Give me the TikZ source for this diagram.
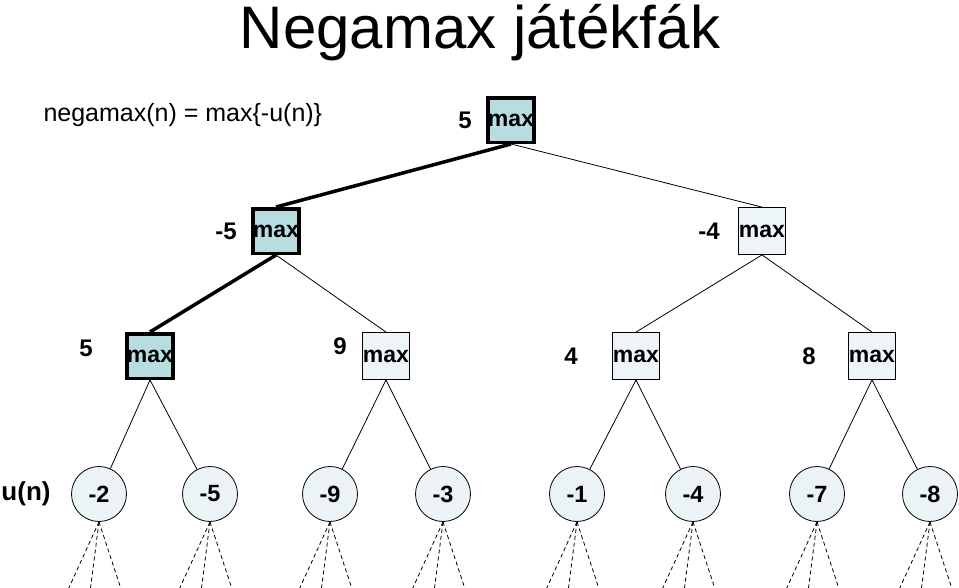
\documentclass[tikz,border=0pt]{standalone}
\usepackage{fontspec}
\setmainfont{Liberation Sans}
\usetikzlibrary{positioning}

\definecolor{bestfill}{RGB}{183,221,224}
\definecolor{boxfill}{RGB}{238,245,248}
\definecolor{leaffill}{RGB}{236,243,247}

\tikzset{
  maxbox/.style={draw, fill=boxfill, line width=0.8pt, minimum size=47pt,
    inner sep=0pt, font=\fontsize{23}{25}\selectfont\bfseries},
  bestbox/.style={maxbox, fill=bestfill, line width=3.5pt, minimum size=44.5pt},
  leaf/.style={draw, circle, fill=leaffill, line width=0.8pt, minimum size=55pt,
    inner sep=0pt, font=\fontsize{23.5}{25}\selectfont\bfseries},
  val/.style={font=\fontsize{24}{26}\selectfont\bfseries},
  edge/.style={line width=0.8pt},
  best/.style={line width=3.5pt},
  cut/.style={line width=0.8pt, dash pattern=on 4pt off 3pt}
}

\begin{document}
\begin{tikzpicture}[x=1pt, y=-1pt]
\useasboundingbox (0,0) rectangle (959,587);

\node[anchor=base, font=\fontsize{60}{64}\selectfont] (title) at (480,48) {Negamax játékfák};
\node[anchor=base west, font=\fontsize{25}{28}\selectfont] (def) at (40,121) {negamax(n) = max\{-u(n)\}};

% max nodes
\node[bestbox] (root) at (511,120) {max};
\node[bestbox] (a1) at (276,231) {max};
\node[maxbox] (a2) at (762,231) {max};
\node[bestbox] (b1) at (150,356) {\raisebox{-4pt}{max}};
\node[maxbox] (b2) at (386,356) {max};
\node[maxbox] (b3) at (636,356) {max};
\node[maxbox] (b4) at (872,356) {max};

% values
\node[val] (vroot) at (465,120) {5};
\node[val] (va1) at (226,231) {-5};
\node[val] (va2) at (709,231) {-4};
\node[val] (vb1) at (86,348) {5};
\node[val] (vb2) at (340,346) {9};
\node[val] (vb3) at (571,356) {4};
\node[val] (vb4) at (809,356) {8};
\node[val, font=\fontsize{26}{28}\selectfont\bfseries] (un) at (26,494) {u(n)};

% leaves
\foreach \x/\u [count=\i] in {99/-2, 210/-5, 330/-9, 443/-3, 577/-1, 693/-4, 817/-7, 930/-8} {
  \node[leaf] (l\i) at (\x,494) {\u};
}

% edges
\draw[best] (root.south) -- (a1.north);
\draw[edge] (root.south) -- (a2.north);
\draw[best] (a1.south) -- (b1.north);
\draw[edge] (a1.south) -- (b2.north);
\draw[edge] (a2.south) -- (b3.north);
\draw[edge] (a2.south) -- (b4.north);
\foreach \b/\p/\q in {b1/1/2, b2/3/4, b3/5/6, b4/7/8} {
  \draw[edge] (\b.south) -- (l\p);
  \draw[edge] (\b.south) -- (l\q);
}

% cut off subtrees
\foreach \i in {1,...,8} {
  \foreach \dx [count=\j] in {-32,-9,23} {
    \path (l\i.south) ++(\dx,70) coordinate (d\i\j);
    \draw[cut] (l\i.south) -- (d\i\j);
  }
}

\end{tikzpicture}
\end{document}
